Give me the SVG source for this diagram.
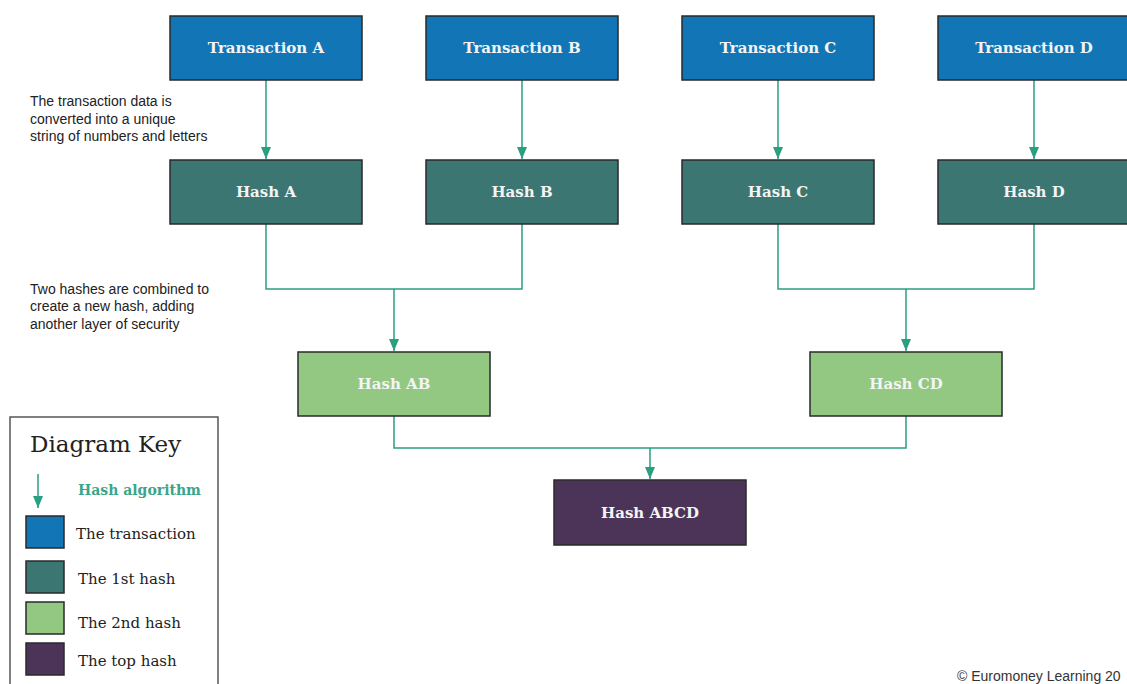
<svg xmlns="http://www.w3.org/2000/svg" width="1127" height="684" viewBox="0 0 1127 684">
<defs>
<marker id="ah" markerWidth="12" markerHeight="10" refX="12" refY="5" orient="auto" markerUnits="userSpaceOnUse" viewBox="0 0 12 10">
<path d="M0,0 L12,5 L0,10 Z" fill="#2a9f82"/>
</marker>
<style>
.box{stroke:#2a2a2a;stroke-width:1.5}
.t1{fill:#1276b6}
.h1{fill:#3b7672}
.h2{fill:#93c883}
.h3{fill:#4b3458}
.lbl{font-family:"DejaVu Serif","Liberation Serif",serif;font-weight:bold;font-size:15px;fill:#f4f4f4;text-anchor:middle}
.note{font-family:"Liberation Sans",Arial,sans-serif;font-size:14px;fill:#222}
.key{font-family:"DejaVu Serif","Liberation Serif",serif;font-size:15px;fill:#222}
.conn{fill:none;stroke:#2a9f82;stroke-width:1.5}
</style>
</defs>
<rect width="1127" height="684" fill="#ffffff"/>

<g id="connectors">
<line class="conn" x1="266" y1="80" x2="266" y2="159" marker-end="url(#ah)"/>
<line class="conn" x1="522" y1="80" x2="522" y2="159" marker-end="url(#ah)"/>
<line class="conn" x1="778" y1="80" x2="778" y2="159" marker-end="url(#ah)"/>
<line class="conn" x1="1034" y1="80" x2="1034" y2="159" marker-end="url(#ah)"/>
<path class="conn" d="M266,224 V289 H522 V224"/>
<line class="conn" x1="394" y1="289" x2="394" y2="351" stroke-width="2" marker-end="url(#ah)"/>
<path class="conn" d="M778,224 V289 H1034 V224"/>
<line class="conn" x1="906" y1="289" x2="906" y2="351" stroke-width="2" marker-end="url(#ah)"/>
<path class="conn" d="M394,416 V448 H906 V416"/>
<line class="conn" x1="650" y1="448" x2="650" y2="479" marker-end="url(#ah)"/>
</g>

<g id="txA"><rect class="box t1" x="170" y="16" width="192" height="64"/><text class="lbl" x="266" y="53">Transaction A</text></g>
<g id="txB"><rect class="box t1" x="426" y="16" width="192" height="64"/><text class="lbl" x="522" y="53">Transaction B</text></g>
<g id="txC"><rect class="box t1" x="682" y="16" width="192" height="64"/><text class="lbl" x="778" y="53">Transaction C</text></g>
<g id="txD"><rect class="box t1" x="938" y="16" width="192" height="64"/><text class="lbl" x="1034" y="53">Transaction D</text></g>

<g id="hashA"><rect class="box h1" x="170" y="160" width="192" height="64"/><text class="lbl" x="266" y="197">Hash A</text></g>
<g id="hashB"><rect class="box h1" x="426" y="160" width="192" height="64"/><text class="lbl" x="522" y="197">Hash B</text></g>
<g id="hashC"><rect class="box h1" x="682" y="160" width="192" height="64"/><text class="lbl" x="778" y="197">Hash C</text></g>
<g id="hashD"><rect class="box h1" x="938" y="160" width="192" height="64"/><text class="lbl" x="1034" y="197">Hash D</text></g>

<g id="hashAB"><rect class="box h2" x="298" y="352" width="192" height="64"/><text class="lbl" x="394" y="389">Hash AB</text></g>
<g id="hashCD"><rect class="box h2" x="810" y="352" width="192" height="64"/><text class="lbl" x="906" y="389">Hash CD</text></g>
<g id="hashABCD"><rect class="box h3" x="554" y="480" width="192" height="65"/><text class="lbl" x="650" y="518">Hash ABCD</text></g>

<g id="note1">
<text class="note" x="30" y="106">The transaction data is</text>
<text class="note" x="30" y="124">converted into a unique</text>
<text class="note" x="30" y="141">string of numbers and letters</text>
</g>
<g id="note2">
<text class="note" x="30" y="294">Two hashes are combined to</text>
<text class="note" x="30" y="311">create a new hash, adding</text>
<text class="note" x="30" y="329">another layer of security</text>
</g>

<g id="legend">
<rect x="10" y="417" width="208" height="280" fill="#ffffff" stroke="#555" stroke-width="1.5"/>
<text x="30" y="452" font-family="'DejaVu Serif','Liberation Serif',serif" font-size="23" fill="#222">Diagram Key</text>
<line class="conn" x1="38" y1="474" x2="38" y2="508" marker-end="url(#ah)"/>
<text x="78" y="495" font-family="'DejaVu Serif','Liberation Serif',serif" font-weight="bold" font-size="14" fill="#3aa58a">Hash algorithm</text>
<rect class="box t1" x="26" y="516" width="38" height="32"/>
<text class="key" x="76" y="539">The transaction</text>
<rect class="box h1" x="26" y="561" width="38" height="32"/>
<text class="key" x="78" y="584">The 1st hash</text>
<rect class="box h2" x="26" y="602" width="38" height="32"/>
<text class="key" x="78" y="628">The 2nd hash</text>
<rect class="box h3" x="26" y="643" width="38" height="32"/>
<text class="key" x="78" y="666">The top hash</text>
</g>

<text x="957" y="681" font-family="'Liberation Sans',Arial,sans-serif" font-size="14" fill="#333">© Euromoney Learning 20</text>
</svg>
